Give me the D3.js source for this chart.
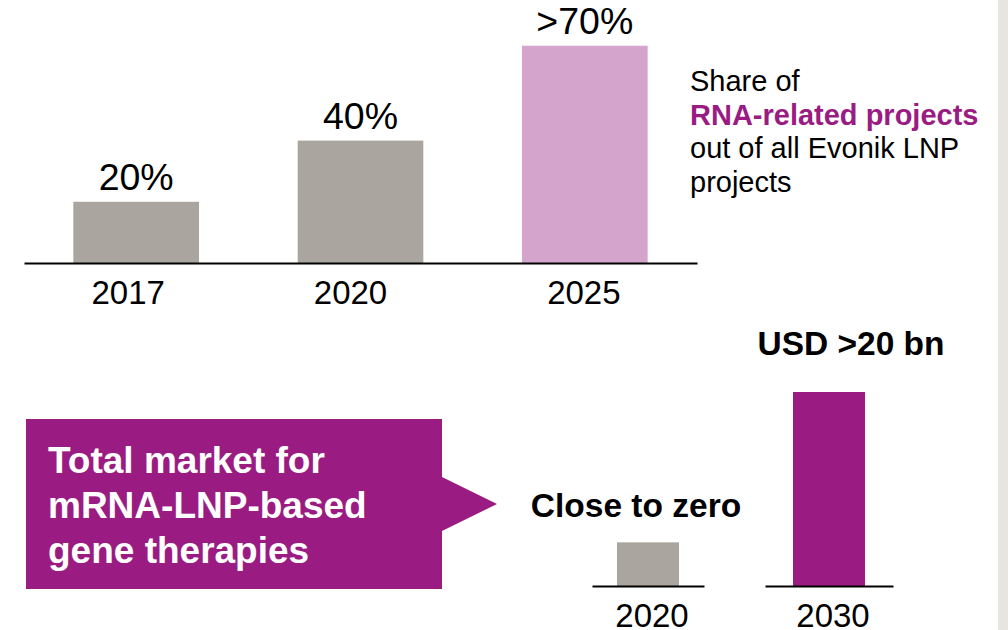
<!DOCTYPE html>
<html>
<head>
<meta charset="utf-8">
<script src="https://cdn.jsdelivr.net/npm/d3@7"></script>
<style>
  html, body { margin: 0; padding: 0; background: #fff; }
  svg { display: block; font-family: "Liberation Sans", Arial, sans-serif; }
</style>
</head>
<body>
<svg id="chart" width="1008" height="630"></svg>
<script>
// top chart: share of RNA projects
const shareYears = ["2017", "2020", "2025"];
const shareValues = [20, 40, 71];
const shareLabels = ["20%", "40%", ">70%"];

// bottom chart: total market
const marketYears = ["2020", "2030"];
const marketValues = [4.5, 20];
const marketLabels = ["Close to zero", "USD >20 bn"];

const calloutLines = ["Total market for", "mRNA-LNP-based", "gene therapies"];
const noteLines = ["Share of", "RNA-related projects", "out of all Evonik LNP", "projects"];

const PURPLE = "#9a1c83";
const PINK = "#d5a4cc";
const GREY = "#aaa59f";

const svg = d3.select("#chart");

// grey strip on the right edge
svg.append("rect")
  .attr("x", 998).attr("y", 0)
  .attr("width", 10).attr("height", 630)
  .attr("fill", "#e8e5e0");

// ---- top chart ----
const x1 = d3.scaleBand()
  .domain(shareYears)
  .range([24, 697])
  .paddingInner(0.44)
  .paddingOuter(0.22);

const y1 = d3.scaleLinear().domain([0, 100]).range([263, -43]);

const shareChart = svg.append("g");

shareChart.selectAll(".bar")
  .data(shareYears)
  .join("rect")
  .attr("class", "bar")
  .attr("x", (d) => x1(d))
  .attr("width", x1.bandwidth())
  .attr("y", (d, i) => y1(shareValues[i]))
  .attr("height", (d, i) => y1(0) - y1(shareValues[i]))
  .attr("fill", (d, i) => (i === shareYears.length - 1 ? PINK : GREY));

shareChart.selectAll(".val")
  .data(shareYears)
  .join("text")
  .attr("class", "val")
  .attr("x", (d) => x1(d) + x1.bandwidth() / 2)
  .attr("y", (d, i) => y1(shareValues[i]) - 12)
  .attr("text-anchor", "middle")
  .attr("font-size", 37.5)
  .attr("fill", "#000")
  .text((d, i) => shareLabels[i]);

// year labels sit a little left of the bar centres in the original
const yearNudge = [-8, -10, -1];
const axisTop = shareChart.append("g")
  .attr("transform", `translate(0,${y1(0)})`)
  .call(d3.axisBottom(x1).tickSize(0).tickSizeOuter(0).tickPadding(18));
axisTop.select(".domain").attr("stroke", "#000").attr("stroke-width", 2);
axisTop.selectAll("text")
  .attr("font-size", 33)
  .attr("font-family", "Liberation Sans, Arial, sans-serif")
  .attr("fill", "#000")
  .attr("dx", (d, i) => yearNudge[i]);

// note to the right
const note = svg.append("text")
  .attr("x", 690)
  .attr("font-size", 29);
noteLines.forEach((line, i) => {
  note.append("tspan")
    .attr("x", 690)
    .attr("y", 91 + i * 33.5)
    .attr("fill", i === 1 ? PURPLE : "#000")
    .attr("font-weight", i === 1 ? "bold" : "normal")
    .text(line);
});

// ---- bottom chart: two little bar groups, each with its own baseline ----
const ranges = [[592, 704], [765, 893]];
const outer = [0.403, 0.389];
const y2 = d3.scaleLinear().domain([0, 20]).range([586, 392]);
const labelShift = [-12, 22];
const labelGap = [25, 37];

marketYears.forEach((year, i) => {
  const xb = d3.scaleBand()
    .domain([year])
    .range(ranges[i])
    .paddingInner(0)
    .paddingOuter(outer[i]);

  const g = svg.append("g");

  g.append("rect")
    .attr("x", xb(year))
    .attr("width", xb.bandwidth())
    .attr("y", y2(marketValues[i]))
    .attr("height", y2(0) - y2(marketValues[i]))
    .attr("fill", i === 0 ? GREY : PURPLE);

  g.append("text")
    .attr("x", xb(year) + xb.bandwidth() / 2 + labelShift[i])
    .attr("y", y2(marketValues[i]) - labelGap[i])
    .attr("text-anchor", "middle")
    .attr("font-size", 33.5)
    .attr("font-weight", "bold")
    .attr("fill", "#000")
    .text(marketLabels[i]);

  const ax = g.append("g")
    .attr("transform", `translate(0,${y2(0)})`)
    .call(d3.axisBottom(xb).tickSize(0).tickSizeOuter(0).tickPadding(18));
  ax.select(".domain").attr("stroke", "#000").attr("stroke-width", 2);
  ax.selectAll("text")
    .attr("font-size", 33)
    .attr("font-family", "Liberation Sans, Arial, sans-serif")
    .attr("fill", "#000")
    .attr("dx", 4);
});

// ---- callout box ----
const box = { left: 26, right: 442, top: 419, bottom: 589 };
svg.append("path")
  .attr("d", `M${box.left},${box.top} H${box.right} V477 L497,504 L${box.right},531 V${box.bottom} H${box.left} Z`)
  .attr("fill", PURPLE);

const callout = svg.append("text")
  .attr("font-size", 37)
  .attr("font-weight", "bold")
  .attr("fill", "#fff");
calloutLines.forEach((line, i) => {
  callout.append("tspan")
    .attr("x", 48)
    .attr("y", 473 + i * 45)
    .text(line);
});
</script>
</body>
</html>
